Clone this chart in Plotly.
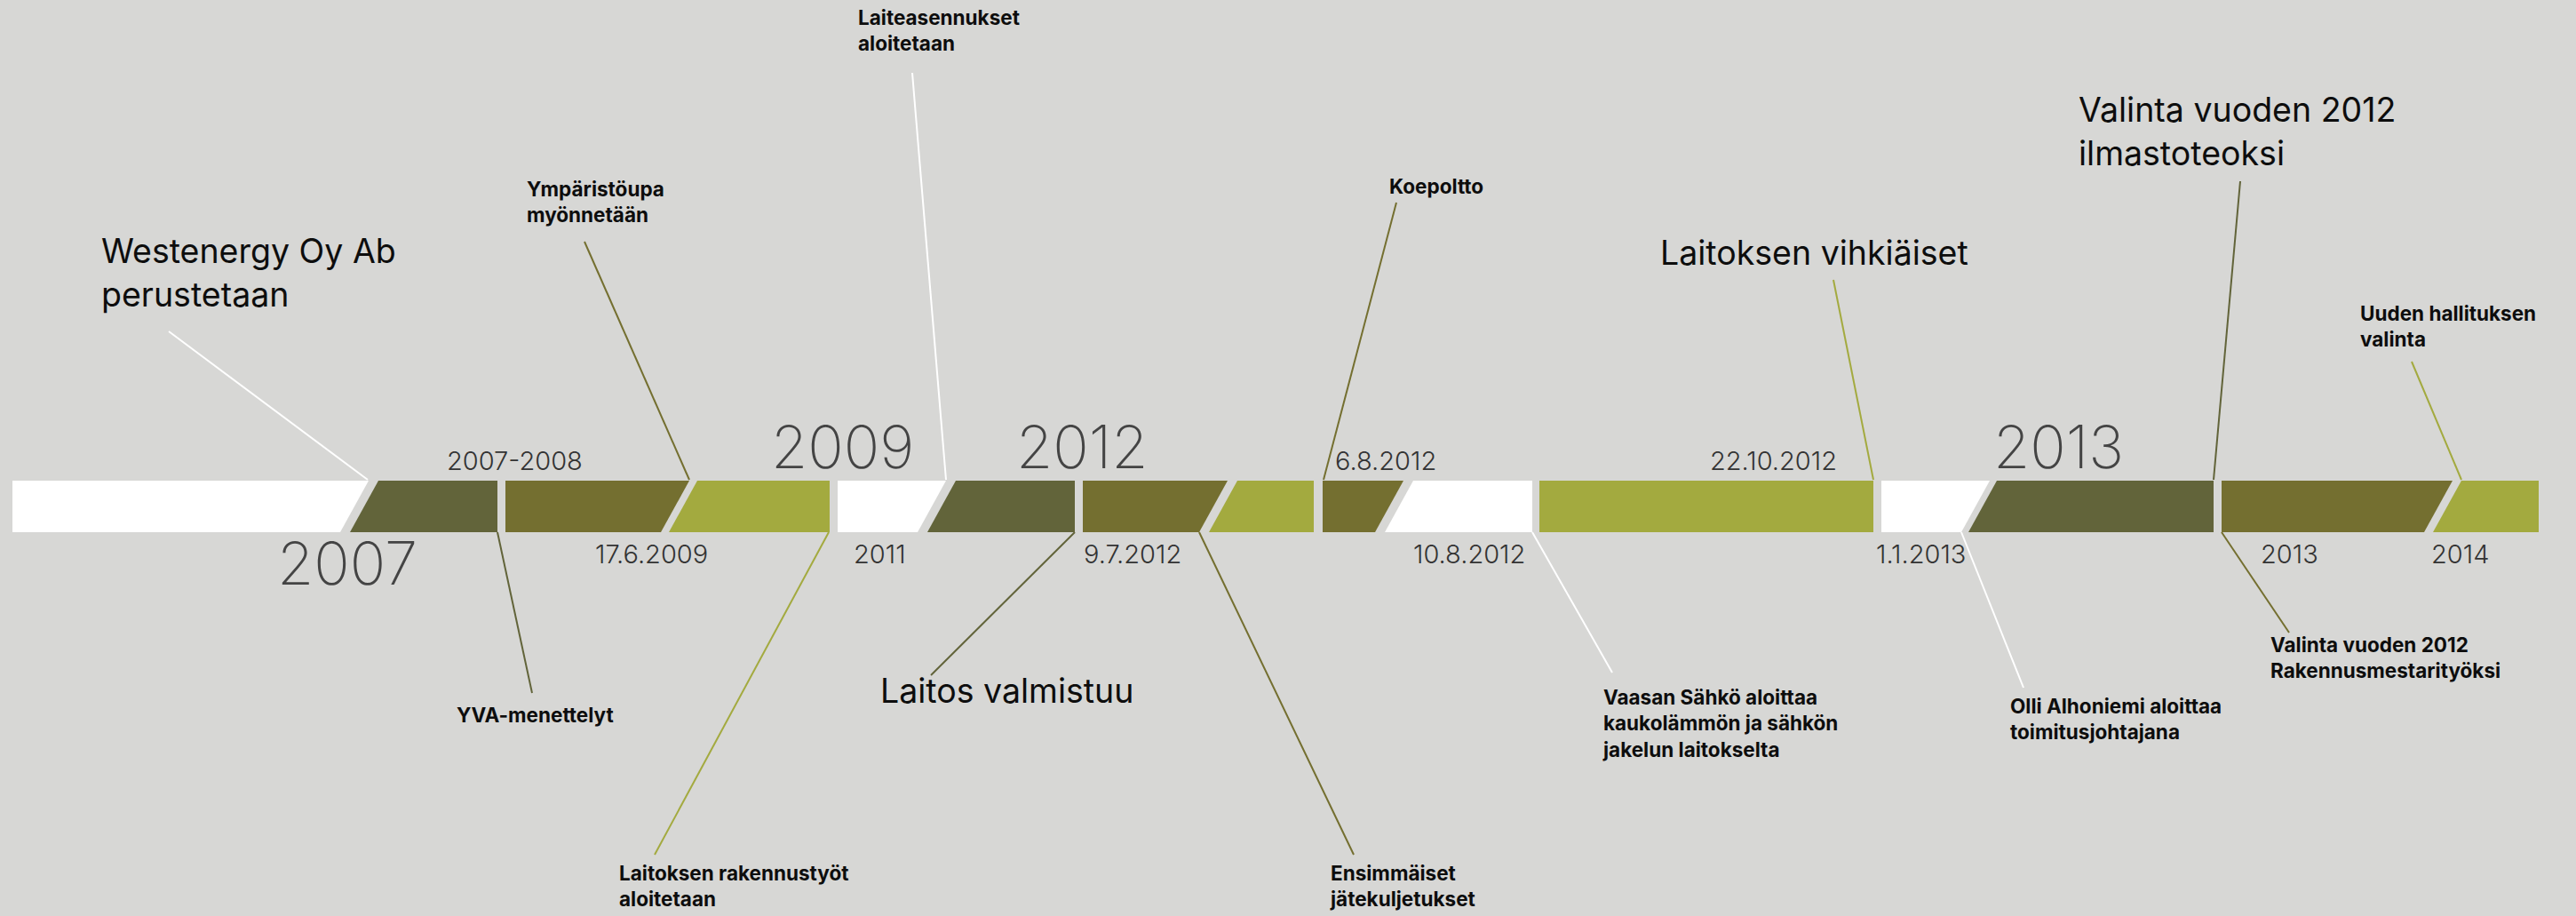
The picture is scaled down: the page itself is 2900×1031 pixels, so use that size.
import plotly.graph_objects as go

# ---------------- data ----------------
# timeline segments (horizontal timeline units, bottom-edge positions)
seg_left = [14, 394, 569, 753, 943, 1044, 1219, 1361, 1489, 1559, 1733, 2118, 2216, 2501, 2739]
seg_right = [383, 560, 744, 934, 1033, 1210, 1350, 1479, 1548, 1725, 2109, 2208, 2492, 2729, 2858]
seg_left_slant = [0, 1, 0, 1, 0, 1, 0, 1, 0, 1, 0, 0, 1, 0, 1]
seg_right_slant = [1, 0, 1, 0, 1, 0, 1, 0, 1, 0, 0, 1, 0, 1, 0]
seg_tone = ["white", "dark", "olive", "light", "white", "dark", "olive", "light",
            "olive", "white", "light", "white", "dark", "olive", "light"]

# date labels on the timeline
date_text = ["2007-2008", "6.8.2012", "22.10.2012",
             "17.6.2009", "2011", "9.7.2012", "10.8.2012", "1.1.2013", "2013", "2014"]
date_x = [579, 1560, 1996, 733, 990, 1275, 1654, 2162, 2577, 2769]
date_side = ["above", "above", "above", "below", "below", "below", "below", "below", "below", "below"]

year_text = ["2007", "2009", "2012", "2013"]
year_x = [391, 948, 1218, 2317]
year_side = ["below", "above", "above", "above"]

# event connectors
conn_x0 = [190, 658, 1027, 1572, 2064, 2522, 2715, 560, 933, 1210, 1350, 1725, 2208, 2501]
conn_y0 = [373, 272, 82, 228, 315, 204, 407, 599, 599, 599, 599, 599, 599, 599]
conn_x1 = [414, 776, 1065, 1490, 2109, 2492, 2771, 599, 737, 1048, 1524, 1815, 2278, 2577]
conn_y1 = [540, 540, 540, 540, 540, 540, 540, 780, 962, 760, 962, 757, 774, 712]
conn_tone = ["white", "olive", "white", "olive", "light", "dark", "light",
             "dark", "light", "dark", "olive", "white", "white", "olive"]

# event labels (lines of one label joined by <br>)
event_text = ["Westenergy Oy Ab<br>perustetaan",
              "Laitoksen vihkiäiset",
              "Valinta vuoden 2012<br>ilmastoteoksi",
              "Laitos valmistuu",
              "Ympäristöupa<br>myönnetään",
              "Laiteasennukset<br>aloitetaan",
              "Koepoltto",
              "Uuden hallituksen<br>valinta",
              "YVA-menettelyt",
              "Laitoksen rakennustyöt<br>aloitetaan",
              "Ensimmäiset<br>jätekuljetukset",
              "Vaasan Sähkö aloittaa<br>kaukolämmön ja sähkön<br>jakelun laitokselta",
              "Olli Alhoniemi aloittaa<br>toimitusjohtajana",
              "Valinta vuoden 2012<br>Rakennusmestarityöksi"]
event_x = [113, 1868, 2339, 990, 592, 965, 1563, 2656, 513, 696, 1496, 1803, 2262, 2555]
# baselines of first and last text line
event_first_base = [302, 298, 143, 791, 221, 27, 218, 359, 813, 990, 990, 791, 802, 733]
event_last_base = [339, 298, 180, 791, 250, 58, 218, 391, 813, 1021, 1021, 853, 833, 764]
event_kind = ["big", "big", "big", "big"] + ["small"] * 10

# ---------------- styles ----------------
W, H = 2900, 1031
BG = "#d7d7d5"
TONES = {"white": "#ffffff", "dark": "#62643a", "olive": "#746f30", "light": "#a3aa3f"}
BAR_TOP, BAR_BOT = 541, 599
SLANT = 32
DATE_BASE = {"above": 529, "below": 634}
YEAR_BASE = {"above": 527, "below": 658}
FONT = "Inter"

fig = go.Figure()

for L, R, ls, rs, tone in zip(seg_left, seg_right, seg_left_slant, seg_right_slant, seg_tone):
    xs = [L, L + SLANT * ls, R + SLANT * rs, R, L]
    ys = [BAR_BOT, BAR_TOP, BAR_TOP, BAR_BOT, BAR_BOT]
    fig.add_trace(go.Scatter(x=xs, y=ys, mode="lines", fill="toself",
                             fillcolor=TONES[tone], line=dict(width=0),
                             hoverinfo="skip", showlegend=False))

for x0, y0, x1, y1, tone in zip(conn_x0, conn_y0, conn_x1, conn_y1, conn_tone):
    fig.add_trace(go.Scatter(x=[x0, x1], y=[y0, y1], mode="lines",
                             line=dict(color=TONES[tone], width=2),
                             hoverinfo="skip", showlegend=False))

annotations = []

def add_text(text, x, mid_base, size, color, weight, anchor):
    annotations.append(dict(
        text=text, x=x, y=mid_base - 0.36 * size, xref="x", yref="y",
        xanchor=anchor, yanchor="middle", align="left", showarrow=False, borderpad=0,
        font=dict(family=FONT, size=size, color=color, weight=weight)))

for t, x, side in zip(date_text, date_x, date_side):
    add_text(t, x, DATE_BASE[side], 29, "#333333", 300, "center")

for t, x, side in zip(year_text, year_x, year_side):
    add_text(t, x, YEAR_BASE[side], 67, "#444444", 200, "center")

for t, x, b0, b1, k in zip(event_text, event_x, event_first_base, event_last_base, event_kind):
    if k == "big":
        add_text(t, x, (b0 + b1) / 2, 37.5, "#0d0d0d", 400, "left")
    else:
        add_text(t, x, (b0 + b1) / 2, 22.5, "#0d0d0d", 700, "left")

fig.update_layout(
    width=W, height=H,
    margin=dict(l=0, r=0, t=0, b=0),
    paper_bgcolor=BG, plot_bgcolor=BG,
    xaxis=dict(range=[0, W], visible=False, fixedrange=True),
    yaxis=dict(range=[H, 0], visible=False, fixedrange=True),
    annotations=annotations,
    showlegend=False,
)

fig.write_html(
    "out.html",
    config={"displayModeBar": False},
    post_script="document.body.style.margin='0';document.body.style.overflow='hidden';"
                "document.body.style.background='" + BG + "';",
)
